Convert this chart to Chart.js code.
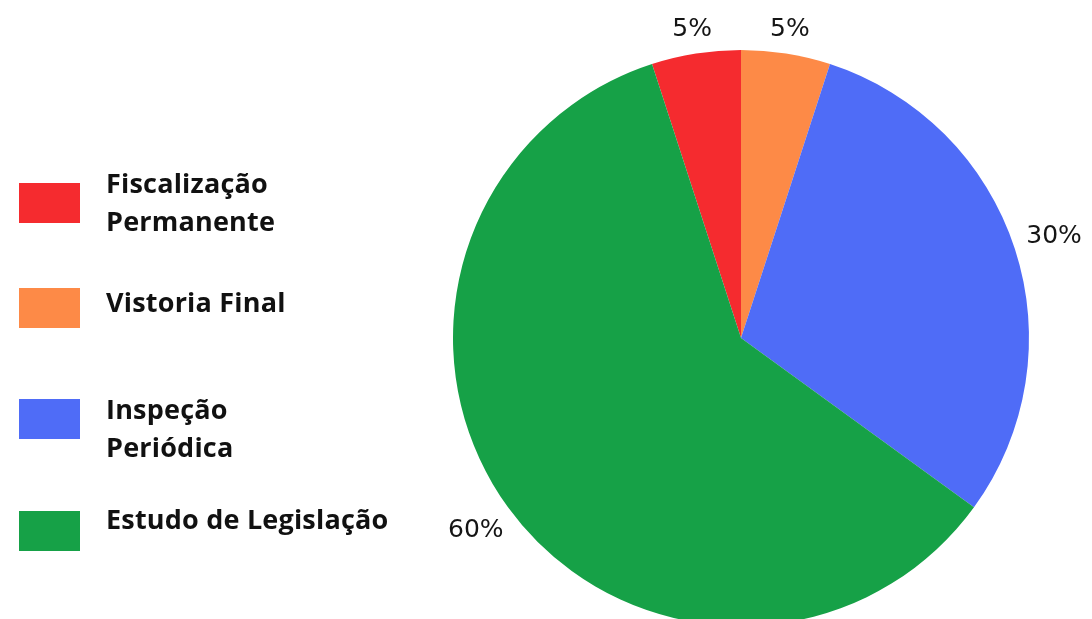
<!DOCTYPE html>
<html>
<head>
<meta charset="utf-8">
<script src="https://cdn.jsdelivr.net/npm/chart.js@4.4.1/dist/chart.umd.min.js"></script>
<style>
  html, body { margin: 0; padding: 0; background: #ffffff; width: 1092px; height: 619px; overflow: hidden; }
  #wrap { position: absolute; left: 0; top: 0; width: 1092px; height: 680px; }
  #legend { position: absolute; left: 0; top: 0; }
  .box { position: absolute; width: 61px; height: 40px; }
  .txt { position: absolute; font-family: "Open Sans", sans-serif; font-weight: 700; font-size: 27px; line-height: 38px; color: #111; white-space: pre; letter-spacing: 0.2px; }
</style>
</head>
<body>
<div id="wrap"><canvas id="c" width="1092" height="680"></canvas></div>
<div id="legend"></div>
<script>
// ---- data ----
const categories = ["Fiscalização\nPermanente", "Vistoria Final", "Inspeção\nPeriódica", "Estudo de Legislação"];
const values = [5, 5, 30, 60];
const valueLabels = ["5%", "5%", "30%", "60%"];
const colors = ["#F52B2F", "#FD8A47", "#4F6CF7", "#16A147"];

// ---- legend (HTML) ----
const legendBoxTops = [183, 288, 399, 511];
const legendTextTops = [164, 283, 390, 500];
const legend = document.getElementById('legend');
categories.forEach((c, i) => {
  const box = document.createElement('div');
  box.className = 'box';
  box.style.background = colors[i];
  box.style.left = '19px';
  box.style.top = legendBoxTops[i] + 'px';
  legend.appendChild(box);
  const t = document.createElement('div');
  t.className = 'txt';
  t.style.left = '106px';
  t.style.top = legendTextTops[i] + 'px';
  t.textContent = c;
  legend.appendChild(t);
});

// ---- outside value labels ----
const outsideLabels = {
  id: 'outsideLabels',
  afterDatasetsDraw(chart) {
    const ctx = chart.ctx;
    const meta = chart.getDatasetMeta(0);
    ctx.save();
    ctx.font = '400 25px "DejaVu Sans", sans-serif';
    ctx.fillStyle = '#151515';
    ctx.textAlign = 'center';
    ctx.textBaseline = 'middle';
    meta.data.forEach((arc, i) => {
      const p = arc.getProps(['x', 'y', 'startAngle', 'endAngle', 'outerRadius'], true);
      const mid = (p.startAngle + p.endAngle) / 2;
      const dx = Math.cos(mid), dy = Math.sin(mid);
      const text = valueLabels[i];
      const w = ctx.measureText(text).width;
      const h = 18;
      const half = Math.abs(dx) * w / 2 + Math.abs(dy) * h / 2;
      const r = p.outerRadius + 12 + half;
      ctx.fillText(text, p.x + dx * r, p.y + dy * r);
    });
    ctx.restore();
  }
};

new Chart(document.getElementById('c'), {
  type: 'pie',
  data: {
    labels: categories,
    datasets: [{
      data: values,
      backgroundColor: colors,
      borderWidth: 0
    }]
  },
  options: {
    responsive: false,
    animation: false,
    rotation: -18,
    layout: { padding: { left: 453, right: 63, top: 50, bottom: 54 } },
    plugins: {
      legend: { display: false },
      tooltip: { enabled: false },
      title: { display: false }
    }
  },
  plugins: [outsideLabels]
});
</script>
</body>
</html>
